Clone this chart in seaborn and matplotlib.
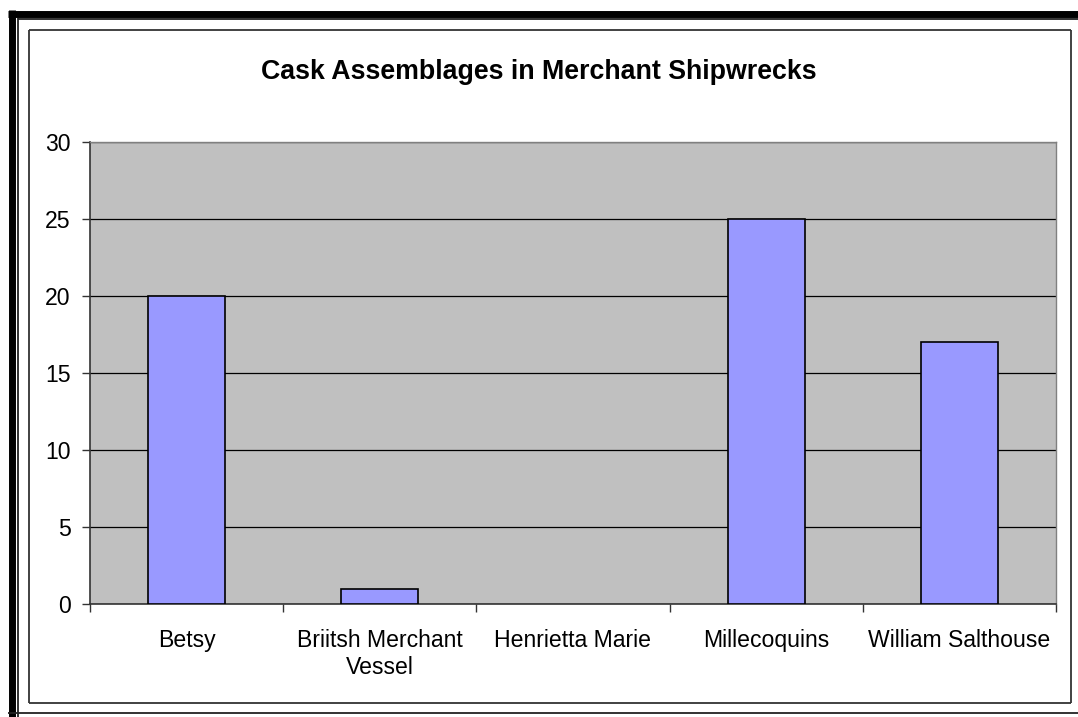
import numpy as np
import pandas as pd
import seaborn as sns
import matplotlib.pyplot as plt
from matplotlib.lines import Line2D

# 数据
ships = ['Betsy', 'Briitsh Merchant\nVessel', 'Henrietta Marie', 'Millecoquins', 'William Salthouse']
casks = [20, 1, 0, 25, 17]

sns.set_theme(style='white')
plt.rcParams['font.family'] = ['Liberation Sans', 'DejaVu Sans']
plt.rcParams['text.color'] = 'black'

W, H = 1078, 717
fig = plt.figure(figsize=(W / 100, H / 100), dpi=100)
ax = fig.add_axes([90 / W, 1 - 604 / H, (1056 - 90) / W, (604 - 142) / H])
ax.set_facecolor('#C0C0C0')

df = pd.DataFrame({'ship': ships, 'casks': casks})
sns.barplot(data=df, x='ship', y='casks', color='#9999FF', edgecolor='black',
            linewidth=1.2, width=0.4, saturation=1, ax=ax, zorder=3)
# 高度为0的柱子不画边框
for p in ax.patches:
    if p.get_height() == 0:
        p.set_linewidth(0)

ax.set_ylim(0, 30)
ax.set_xlim(-0.5, len(ships) - 0.5)
ax.set_yticks(np.arange(0, 31, 5))
ax.yaxis.grid(True, color='black', linewidth=0.9, zorder=1)
ax.set_axisbelow(True)
ax.set_xlabel('')
ax.set_ylabel('')
ax.tick_params(axis='y', which='major', left=True, length=6, width=1, color='#333333',
               labelsize=16.6, pad=8, labelcolor='black')
ax.tick_params(axis='x', which='major', bottom=False, labelsize=16.6, pad=12, labelcolor='black')
ax.set_xticks(np.arange(-0.5, len(ships), 1), minor=True)
ax.tick_params(axis='x', which='minor', bottom=True, length=6, width=1, color='#333333')
for lab in ax.get_xticklabels():
    lab.set_linespacing(1.2)

for s in ['left', 'bottom']:
    ax.spines[s].set_color('#333333')
    ax.spines[s].set_linewidth(1.2)
for s in ['top', 'right']:
    ax.spines[s].set_color('#808080')
    ax.spines[s].set_linewidth(1)

fig.text(0.5, 1 - 72 / H, 'Cask Assemblages in Merchant Shipwrecks', ha='center', va='center',
         fontsize=19.3, fontweight='bold', color='black')


# 边框
def hline(y, x0, x1, lw, c='black'):
    fig.add_artist(Line2D([x0 / W, x1 / W], [1 - y / H, 1 - y / H], lw=lw, color=c,
                          solid_capstyle='butt'))


def vline(x, y0, y1, lw, c='black'):
    fig.add_artist(Line2D([x / W, x / W], [1 - y0 / H, 1 - y1 / H], lw=lw, color=c,
                          solid_capstyle='butt'))


hline(13.5, 8, W, 5)
vline(11.5, 10, H, 5)
hline(19, 18, W, 1.3, '#222222')
vline(18, 18, H, 1.3, '#222222')
hline(30, 29, 1071, 1.3, '#333333')
vline(29, 30, 703, 1.3, '#333333')
vline(1071, 30, 703, 1.3, '#333333')
hline(703, 29, 1071, 1.3, '#333333')
hline(713, 8, W, 1.3, '#222222')

fig.savefig('out.png', dpi=100)
